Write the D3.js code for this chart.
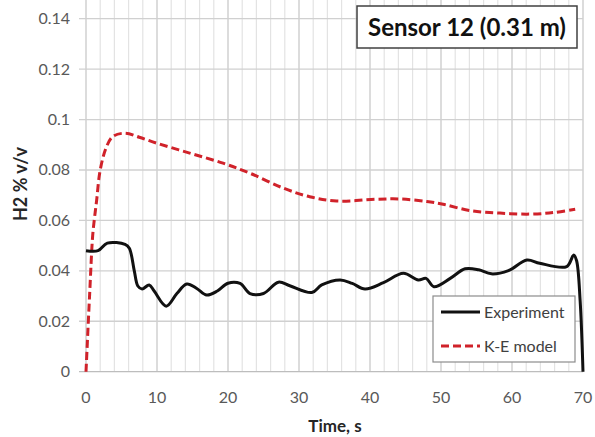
<!DOCTYPE html>
<html>
<head>
<meta charset="utf-8">
<script src="https://cdn.jsdelivr.net/npm/d3@7"></script>
<style>
  body { margin: 0; background: #fff; }
  svg { display: block; font-family: Lato, "Open Sans", sans-serif; }
</style>
</head>
<body>
<div class="container"></div>
<script>
// Sensor 12 chart data
var expTime = [0, 1.7, 3.0, 5.5, 6.1, 6.8, 7.3, 7.9, 8.9, 9.6, 11.3, 12.8, 14.2, 15.6, 17.0, 18.5, 20.0, 21.7,
  23.1, 25.0, 27.1, 28.7, 31.8, 33.2, 35.8, 37.5, 39.3, 41.9, 44.7, 46.8, 47.9, 49.0, 51.3, 53.4, 55.3,
  57.1, 59.5, 62.1, 63.9, 67.7, 68.7, 69.1, 69.6, 70];
var expValue = [0.048, 0.048, 0.051, 0.0505, 0.049, 0.040, 0.034, 0.0328, 0.0344, 0.032, 0.026, 0.031, 0.0348,
  0.033, 0.0304, 0.032, 0.0351, 0.035, 0.031, 0.031, 0.0355, 0.0341, 0.0314, 0.0344, 0.0364, 0.035, 0.0328,
  0.0353, 0.039, 0.0364, 0.037, 0.0337, 0.037, 0.0408, 0.0404, 0.0388, 0.0401, 0.0443, 0.043, 0.0417,
  0.0463, 0.044, 0.028, 0];

var keTime = [0, 0.5, 0.94, 1.2, 1.5, 2.0, 2.9, 3.8, 5.5, 7.5, 10, 14.6, 19.3, 23.1, 27.8, 31.5, 35.3, 40.9,
  44.2, 48, 50.3, 54.1, 58.3, 62.5, 65.8, 68.9];
var keValue = [0, 0.03, 0.054, 0.061, 0.068, 0.08, 0.0893, 0.0933, 0.0946, 0.093, 0.0906, 0.0867, 0.0827,
  0.0787, 0.0728, 0.0694, 0.0677, 0.0684, 0.0685, 0.0675, 0.0664, 0.0639, 0.0629, 0.0625, 0.0631, 0.0644];

var xTicks = [0, 10, 20, 30, 40, 50, 60, 70];
var yTicks = [0, 0.02, 0.04, 0.06, 0.08, 0.1, 0.12, 0.14];
var yTickLabels = ["0", "0.02", "0.04", "0.06", "0.08", "0.1", "0.12", "0.14"];
var seriesNames = ["Experiment", "K-E model"];
var chartTitle = "Sensor 12 (0.31 m)";

var width = 595, height = 437;
var x = d3.scaleLinear().domain([0, 70]).range([86, 583]);
var y = d3.scaleLinear().domain([0, 0.14]).range([371.7, 18.7]);

var svg = d3.select(".container").append("svg")
  .attr("width", width)
  .attr("height", height);

// minor vertical grid every 2 s
var grid = svg.append("g").attr("class", "grid");
grid.selectAll(".minor")
  .data(d3.range(2, 70, 2).filter(function(d) { return d % 10 != 0; }))
  .enter().append("line")
  .attr("x1", function(d) { return x(d); })
  .attr("x2", function(d) { return x(d); })
  .attr("y1", 0)
  .attr("y2", y(0))
  .attr("stroke", "#e3e3e3")
  .attr("stroke-width", 1.2);

grid.selectAll(".major-x")
  .data(xTicks)
  .enter().append("line")
  .attr("x1", function(d) { return x(d); })
  .attr("x2", function(d) { return x(d); })
  .attr("y1", 0)
  .attr("y2", y(0))
  .attr("stroke", "#c9c9c9")
  .attr("stroke-width", 1.3);

grid.selectAll(".major-y")
  .data(yTicks)
  .enter().append("line")
  .attr("x1", 79)
  .attr("x2", x(70))
  .attr("y1", function(d) { return y(d); })
  .attr("y2", function(d) { return y(d); })
  .attr("stroke", function(d) { return d == 0 ? "#bdbdbd" : "#d0d0d0"; })
  .attr("stroke-width", 1.3);

// tick labels
svg.append("g").selectAll("text")
  .data(yTicks)
  .enter().append("text")
  .attr("x", 70)
  .attr("y", function(d) { return y(d) + 5.5; })
  .attr("text-anchor", "end")
  .attr("font-size", 16)
  .attr("fill", "#595959")
  .text(function(d, i) { return yTickLabels[i]; });

svg.append("g").selectAll("text")
  .data(xTicks)
  .enter().append("text")
  .attr("x", function(d) { return x(d); })
  .attr("y", 403)
  .attr("text-anchor", "middle")
  .attr("font-size", 16)
  .attr("fill", "#595959")
  .text(function(d) { return d; });

// axis titles
svg.append("text")
  .attr("transform", "translate(27,184) rotate(-90)")
  .attr("text-anchor", "middle")
  .attr("font-size", 18)
  .attr("font-weight", "bold")
  .attr("fill", "#262626")
  .text("H2 % v/v");

svg.append("text")
  .attr("x", 335)
  .attr("y", 432)
  .attr("text-anchor", "middle")
  .attr("font-size", 17)
  .attr("font-weight", "bold")
  .attr("fill", "#262626")
  .text("Time, s");

// series
var line = d3.line()
  .x(function(d) { return x(d[0]); })
  .y(function(d) { return y(d[1]); })
  .curve(d3.curveCatmullRom.alpha(0.5));

svg.append("path")
  .datum(d3.zip(keTime, keValue))
  .attr("d", line)
  .attr("fill", "none")
  .attr("stroke", "#d0222a")
  .attr("stroke-width", 3)
  .attr("stroke-dasharray", "8,4");

svg.append("path")
  .datum(d3.zip(expTime, expValue))
  .attr("d", line)
  .attr("fill", "none")
  .attr("stroke", "#111")
  .attr("stroke-width", 3)
  .attr("stroke-linejoin", "round");

// title box
var title = svg.append("g");
title.append("rect")
  .attr("x", 357).attr("y", 6)
  .attr("width", 220).attr("height", 42)
  .attr("fill", "#fff")
  .attr("stroke", "#404040")
  .attr("stroke-width", 1.5);
title.append("text")
  .attr("x", 467).attr("y", 36)
  .attr("text-anchor", "middle")
  .attr("font-size", 24)
  .attr("font-weight", "bold")
  .attr("fill", "#111")
  .text(chartTitle);

// legend
var legend = svg.append("g");
legend.append("rect")
  .attr("x", 433).attr("y", 296)
  .attr("width", 142).attr("height", 66)
  .attr("fill", "#fff")
  .attr("stroke", "#8c8c8c")
  .attr("stroke-width", 1.2);

var legendRows = legend.selectAll(".row")
  .data(seriesNames)
  .enter().append("g")
  .attr("transform", function(d, i) { return "translate(0," + (312 + i * 34) + ")"; });

legendRows.append("line")
  .attr("x1", 441).attr("x2", 480)
  .attr("y1", 0).attr("y2", 0)
  .attr("stroke", function(d, i) { return i == 0 ? "#111" : "#d0222a"; })
  .attr("stroke-width", 3)
  .attr("stroke-dasharray", function(d, i) { return i == 0 ? null : "8,4"; });

legendRows.append("text")
  .attr("x", 484).attr("y", 5.5)
  .attr("font-size", 16)
  .attr("fill", "#404040")
  .text(function(d) { return d; });
</script>
</body>
</html>
